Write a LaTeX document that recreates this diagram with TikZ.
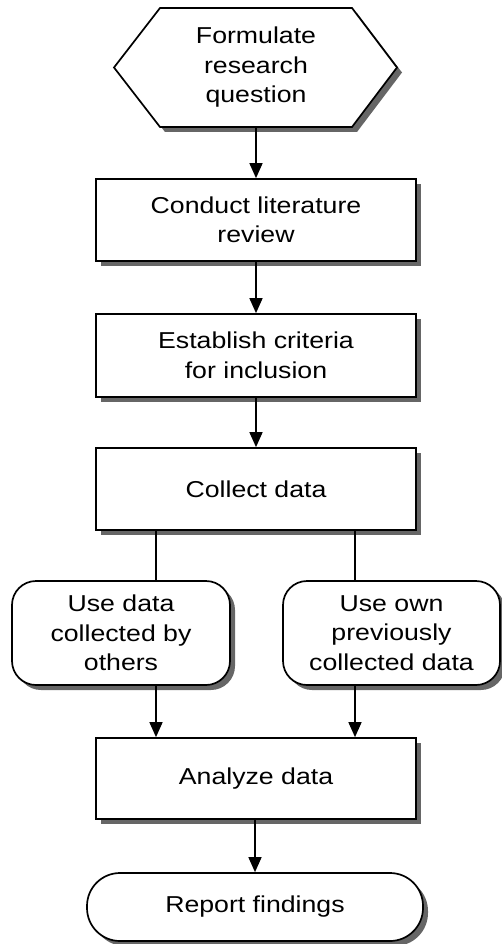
\documentclass[tikz,border=0pt]{standalone}
\usepackage{fontspec}
\setmainfont{Liberation Sans}[FakeStretch=1.16]
\usetikzlibrary{arrows.meta,shadows}

\tikzset{
  lbl/.style={align=center, inner sep=0pt,
    font=\fontsize{23}{29.5}\selectfont},
  boxshadow/.style={drop shadow={shadow xshift=5pt, shadow yshift=-5pt,
    fill=black!60, opacity=1}},
  stepbox/.style={lbl, draw, line width=1.7pt, fill=white, boxshadow,
    minimum width=320pt},
  sidebox/.style={lbl, draw, line width=1.7pt, fill=white, boxshadow,
    rounded corners=24pt, minimum height=104pt},
  endbox/.style={lbl, draw, line width=1.7pt, fill=white, boxshadow,
    rounded corners=33pt, minimum width=336pt, minimum height=68pt},
  flow/.style={line width=1.5pt, -{Triangle[length=15pt,width=13pt]}}
}

\begin{document}
\begin{tikzpicture}[x=1pt,y=-1pt]
  \useasboundingbox (0,0) rectangle (502,944);
  % hexagon on top
  \fill[black!60, xshift=5pt, yshift=-5pt] (160,8) -- (352,8)
       -- (397,67.5) -- (352,127) -- (160,127) -- (114,67.5) -- cycle;
  \draw[line width=1.7pt, fill=white] (160,8) -- (352,8)
       -- (397,67.5) -- (352,127) -- (160,127) -- (114,67.5) -- cycle;
  \node[lbl, minimum height=119pt] (form) at (256,67.5)
       {Formulate\\research\\question};

  \node[stepbox, minimum height=82pt] (review) at (256,220)
       {Conduct literature\\review};
  \node[stepbox, minimum height=83pt] (criteria) at (256,355.5)
       {Establish criteria\\for inclusion};
  \node[stepbox, minimum height=82pt] (collect) at (256,489)
       {Collect data};
  \node[sidebox, minimum width=218pt] (others) at (121,633)
       {Use data\\collected by\\others};
  \node[sidebox, minimum width=217pt] (own) at (391.5,633)
       {Use own\\previously\\collected data};
  \node[stepbox, minimum height=81pt] (analyze) at (256,778.5)
       {Analyze data};
  \node[endbox] (report) at (255,907) {Report findings};

  \coordinate (lft) at (156,0);
  \coordinate (rgt) at (355,0);

  \draw[flow] (form.south) -- (review.north);
  \draw[flow] (review) -- (criteria);
  \draw[flow] (criteria) -- (collect);
  \draw[line width=1.5pt] (collect.south -| lft) -- (others.north -| lft);
  \draw[line width=1.5pt] (collect.south -| rgt) -- (own.north -| rgt);
  \draw[flow] (others.south -| lft) -- (analyze.north -| lft);
  \draw[flow] (own.south -| rgt) -- (analyze.north -| rgt);
  \draw[flow] (analyze.south -| report.north) -- (report.north);
\end{tikzpicture}
\end{document}
